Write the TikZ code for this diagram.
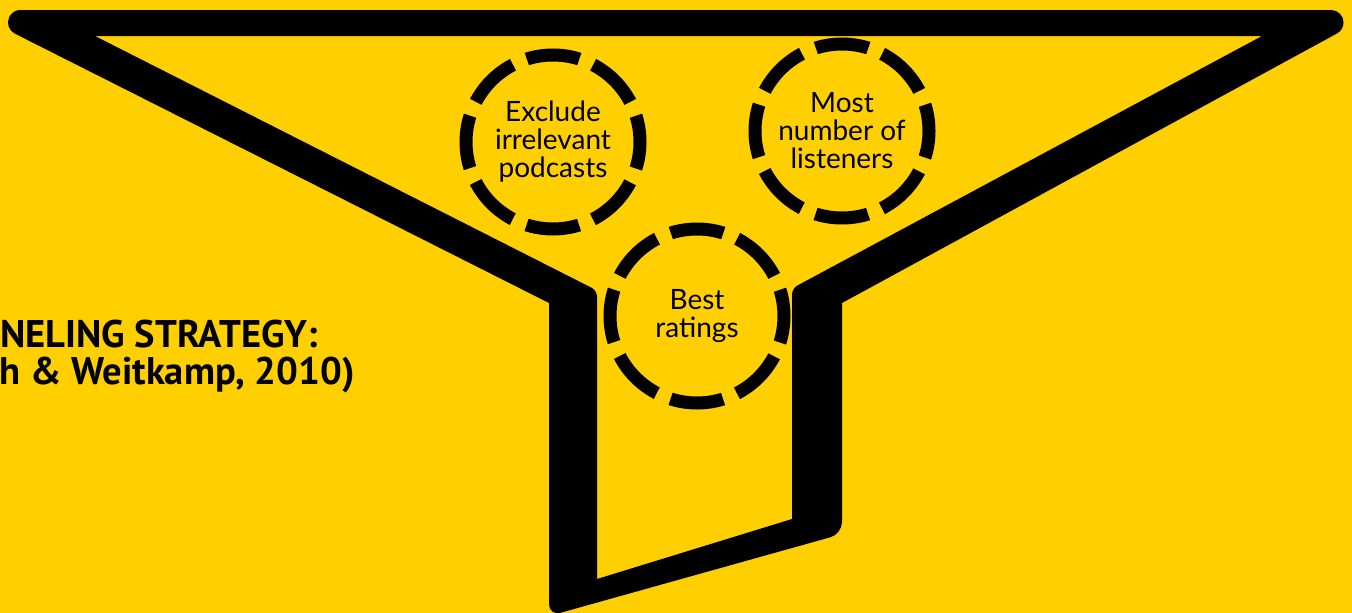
\documentclass[tikz,border=0pt]{standalone}
\usepackage{fontspec}
\setmainfont{Lato}
\newfontfamily\headingfont{PT Sans}
\definecolor{funnelyellow}{RGB}{255,207,0}

\begin{document}
\begin{tikzpicture}[x=1pt,y=-1pt,
		ring/.style={circle,draw,line width=13pt,minimum size=174pt,inner sep=0pt,
			dash pattern=on 53.3pt off 15pt,dash phase=26.65pt,align=center,
			font=\fontsize{28}{28}\selectfont},
		heading/.style={anchor=base east,inner sep=0pt,
			font=\headingfont\bfseries\fontsize{38.5}{38.5}\selectfont}]
	\fill[funnelyellow] (0,0) rectangle (1352,613);
	\useasboundingbox (0,0) rectangle (1352,613);

	% funnel body
	\fill[even odd rule] (20.5,10) -- (1331,10) arc (270:421.4:12.5) -- (842,303)
		[rounded corners=12pt] -- (842,534) -- (549,616) [sharp corners] -- (549,303)
		-- (14.8,33.6) arc (117:270:12.5) -- cycle
		(95,36) -- (1262,36) [rounded corners=6pt] -- (792,288.4) [sharp corners] -- (792,519)
		-- (597,579) [rounded corners=6pt] -- (597,290.5) [sharp corners] -- cycle;

	% filters
	\node[ring] (exclude) at (553,142) {Exclude\\irrelevant\\podcasts};
	\node[ring] (listeners) at (842,131) {Most\\number of\\listeners};
	\node[ring] (ratings) at (697,316) {Best\\ratings};

	\node[heading] (strategy) at (318,347) {NELING STRATEGY:};
	\node[heading] (source) at (355,384) {h \& Weitkamp, 2010)};
\end{tikzpicture}
\end{document}
